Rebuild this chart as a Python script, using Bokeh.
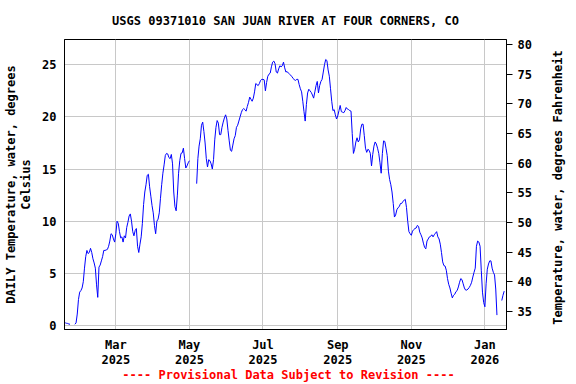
import math
import numpy as np
import pandas as pd
from bokeh.plotting import figure
from bokeh.models import Range1d, LinearAxis, FixedTicker, ColumnDataSource, Label
from bokeh.embed import file_html
from bokeh.resources import INLINE

# ---------------- data ----------------
start_date = "2025-01-18"
temp_c = [
    0.26, 0.22, 0.2, 0.15, 0.12, None, None, None, 0.12, 0.25,
    1.1, 2.5, 3.2, 3.35, 3.6, 4.2, 5.5, 6.6, 7.2, 6.9,
    7.0, 7.4, 7.0, 6.4, 6.0, 5.5, 3.9, 2.7, 5.6, 5.8,
    6.2, 6.6, 7.2, 7.2, 7.25, 7.3, 7.6, 8.1, 8.8, 8.7,
    8.3, 8.0, 8.8, 10.0, 9.8, 9.0, 8.4, 8.5, 8.0, 8.6,
    8.4, 9.4, 9.9, 10.5, 10.7, 10.0, 9.0, 8.6, 9.1, 9.3,
    7.6, 7.0, 7.8, 8.5, 9.8, 11.6, 12.8, 13.5, 14.4, 14.5,
    13.3, 12.4, 11.5, 10.8, 9.6, 8.8, 10.0, 10.2, 10.8, 12.2,
    13.5, 14.6, 15.4, 16.3, 16.5, 16.45, 16.1, 16.0, 16.4, 15.5,
    12.8, 11.4, 11.0, 12.5, 14.6, 15.8, 16.5, 16.55, 17.0, 16.0,
    15.1, 15.3, 15.6, 15.8, None, None, None, None, None, 13.6,
    16.0, 17.2, 17.9, 19.2, 19.5, 18.6, 17.5, 16.0, 15.2, 15.9,
    15.8, 15.5, 15.0, 15.9, 17.8, 19.0, 19.65, 19.4, 18.3, 18.3,
    19.0, 19.5, 19.9, 20.2, 19.8, 18.7, 17.7, 16.8, 16.7, 17.3,
    17.9, 18.2, 19.0, 19.2, 19.6, 20.0, 20.4, 20.7, 20.8, 20.7,
    20.55, 21.0, 21.4, 21.9, 21.7, 21.5, 21.8, 22.4, 23.2, 23.1,
    23.0, 23.2, 23.5, 23.6, 23.6, 23.55, 22.5, 23.3, 23.9, 24.1,
    24.2, 24.8, 25.25, 25.35, 25.1, 24.3, 24.2, 24.6, 24.9, 24.8,
    24.9, 25.25, 24.7, 24.3, 24.35, 24.2, 24.1, 24.0, 23.85, 23.7,
    23.55, 23.5, 23.6, 23.6, 23.1, 22.7, 22.4, 21.5, 20.5, 19.6,
    21.2, 22.3, 22.65, 22.5, 22.35, 22.1, 21.8, 22.4, 23.0, 23.4,
    22.3, 23.0, 23.4, 23.6, 24.3, 25.0, 25.5, 25.4, 24.5, 23.9,
    22.7, 21.5, 20.6, 20.7, 20.2, 19.8, 20.1, 20.6, 21.1, 20.5,
    20.45, 20.4, 20.6, 20.9, 20.75, 20.7, 20.6, 20.55, 18.4, 16.5,
    16.9, 17.6, 18.0, 17.6, 17.8, 18.85, 19.3, 19.3, 18.2, 17.0,
    16.6, 16.9, 16.8, 16.5, 15.3, 16.4, 17.2, 17.6, 17.4, 17.0,
    16.5, 15.6, 14.6, 16.5, 17.7, 17.65, 17.0, 16.3, 14.8, 14.0,
    13.5, 12.8, 11.7, 10.4, 10.6, 11.1, 11.3, 11.4, 11.7, 11.7,
    11.9, 12.0, 12.1, 11.3, 10.0, 9.0, 8.8, 8.65, 9.05, 9.2,
    9.3, 9.35, 9.6, 9.5, 8.95, 8.7, 8.4, 7.9, 7.5, 7.35,
    8.1, 8.3, 8.5, 8.55, 8.7, 8.5, 8.7, 8.85, 9.0, 8.5,
    8.3, 7.8, 7.0, 6.1, 5.75, 5.7, 5.3, 4.5, 3.95, 3.6,
    3.1, 2.65, 2.9, 3.0, 3.25, 3.35, 3.7, 4.15, 4.5, 4.4,
    4.0, 3.6, 3.4, 3.4, 3.5, 3.65, 3.85, 4.15, 4.65, 5.1,
    5.5, 7.6, 8.1, 8.0, 7.6, 5.3, 3.2, 2.2, 1.8, 4.0,
    5.4, 5.9, 6.2, 6.2, 5.5, 5.1, 4.85, 3.5, 1.0, None,
    None, None, 2.4, 2.9, 3.3,
]
month_ticks = ["2025-03-01", "2025-05-01", "2025-07-01", "2025-09-01", "2025-11-01", "2026-01-01"]
month_labels = ["Mar\n2025", "May\n2025", "Jul\n2025", "Sep\n2025", "Nov\n2025", "Jan\n2026"]
celsius_ticks = [0, 5, 10, 15, 20, 25]
fahrenheit_ticks = [35, 40, 45, 50, 55, 60, 65, 70, 75, 80]

title_text = "USGS 09371010 SAN JUAN RIVER AT FOUR CORNERS, CO"
left_label = "DAILY Temperature, water, degrees\nCelsius"
right_label = "Temperature, water, degrees Fahrenheit"
footer_text = "---- Provisional Data Subject to Revision ----"

# ---------------- build ----------------
dates = pd.date_range(start_date, periods=len(temp_c), freq="D")
vals = np.array([np.nan if v is None else v for v in temp_c], dtype=float)
src = ColumnDataSource(dict(date=dates, temp=vals))

FONT = "DejaVu Sans Mono"

p = figure(
    width=576, height=384,
    x_axis_type="datetime",
    x_range=Range1d(pd.Timestamp("2025-01-17 10:00"), pd.Timestamp("2026-01-18 22:00")),
    y_range=Range1d(-0.38, 27.42),
    output_backend="svg", toolbar_location=None,
    min_border_left=64, min_border_right=70, min_border_top=39, min_border_bottom=55,
)
p.extra_y_ranges = {"f": Range1d(31.97, 80.84)}

p.outline_line_color = "black"
p.outline_line_width = 1
p.background_fill_color = "white"
p.border_fill_color = "white"

# title
p.title.text = title_text
p.title.align = "center"
p.title.text_font = FONT
p.title.text_font_style = "bold"
p.title.text_font_size = "12px"
p.title.text_color = "black"
p.title.text_line_height = 1.0
p.title.standoff = 23

# grid
tick_ms = [pd.Timestamp(d).value / 1e6 for d in month_ticks]
p.xgrid.ticker = FixedTicker(ticks=tick_ms)
p.ygrid.ticker = FixedTicker(ticks=celsius_ticks)
for g in (p.xgrid, p.ygrid):
    g.grid_line_color = "#c8c8c8"
    g.grid_line_width = 1

# bottom axis
xa = p.xaxis[0]
xa.ticker = FixedTicker(ticks=tick_ms)
xa.major_label_overrides = {t: lab for t, lab in zip(tick_ms, month_labels)}
xa.major_tick_out = 0
xa.major_tick_in = 0
xa.minor_tick_out = 0
xa.minor_tick_in = 0
xa.major_label_standoff = 8
xa.axis_line_color = "black"

# left axis
ya = p.yaxis[0]
ya.ticker = FixedTicker(ticks=celsius_ticks)
ya.major_tick_out = 0
ya.major_tick_in = 0
ya.minor_tick_out = 0
ya.minor_tick_in = 0
ya.major_label_standoff = 8
ya.axis_line_color = "black"
ya.axis_label = left_label
ya.axis_label_standoff = 6

# right axis
ra = LinearAxis(y_range_name="f", ticker=FixedTicker(ticks=fahrenheit_ticks))
ra.major_tick_out = 6
ra.major_tick_in = 0
ra.minor_tick_out = 0
ra.minor_tick_in = 0
ra.major_label_standoff = 5
ra.axis_line_color = "black"
ra.major_tick_line_color = "black"
p.add_layout(ra, "right")

for ax in (xa, ya, ra):
    ax.major_label_text_font = FONT
    ax.major_label_text_font_style = "bold"
    ax.major_label_text_font_size = "12px"
    ax.major_label_text_color = "black"
    ax.axis_label_text_font = FONT
    ax.axis_label_text_font_style = "bold"
    ax.axis_label_text_font_size = "12px"
    ax.axis_label_text_color = "black"
xa.major_label_text_line_height = 1.1
ya.axis_label_text_line_height = 1.1

# data line
p.line("date", "temp", source=src, line_color="#0000ff", line_width=1)

# right label (reads bottom-to-top) and footer, placed in the side panels
p.add_layout(Label(
    x=557, y=187, x_units="canvas", y_units="canvas", text=right_label,
    angle=math.pi / 2, text_align="center", text_baseline="middle",
    text_font=FONT, text_font_style="bold", text_font_size="12px", text_color="black",
), "right")
p.add_layout(Label(
    x=288, y=374, x_units="canvas", y_units="canvas", text=footer_text,
    text_align="center", text_baseline="middle",
    text_font=FONT, text_font_style="bold", text_font_size="12px", text_color="#ff0000",
), "below")

open("out.html", "w").write(file_html(p, INLINE))
